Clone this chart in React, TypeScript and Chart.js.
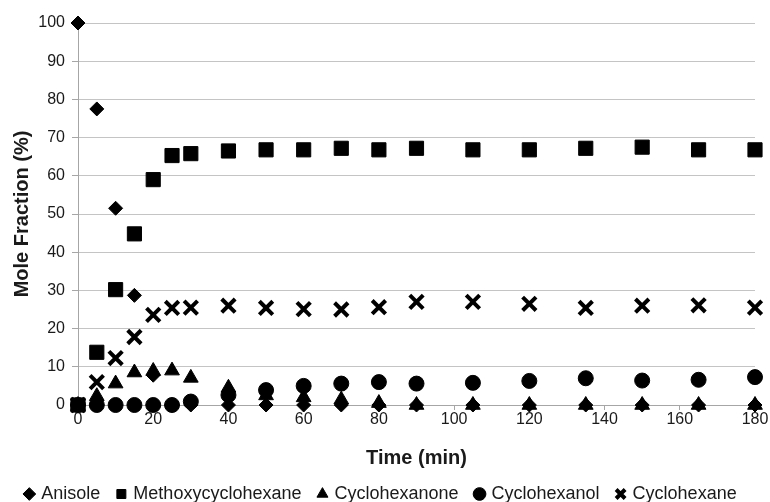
import React, { useEffect, useRef } from "react";
import { Chart, registerables } from "chart.js";

Chart.register(...registerables);

const times = [0, 5, 10, 15, 20, 25, 30, 40, 50, 60, 70, 80, 90, 105, 120, 135, 150, 165, 180];
const anisole = [100, 77.5, 51.5, 28.7, 7.8, 0, 0, 0, 0, 0, 0, 0, 0, 0, 0, 0, 0, 0, 0];
const methoxycyclohexane = [0, 13.8, 30.2, 44.8, 59, 65.3, 65.8, 66.5, 66.8, 66.8, 67.2, 66.8, 67.2, 66.8, 66.8, 67.2, 67.5, 66.8, 66.8];
const cyclohexanone = [0, 2.3, 5.6, 8.5, 8.9, 9.0, 7.1, 4.5, 2.5, 2, 1.4, 0.5, 0, 0, 0, 0, 0, 0, 0];
const cyclohexanol = [0, 0, 0, 0, 0, 0, 0.9, 2.6, 3.9, 5, 5.6, 6, 5.6, 5.8, 6.3, 7, 6.4, 6.6, 7.3];
const cyclohexane = [0, 6, 12.3, 17.8, 23.6, 25.4, 25.5, 26, 25.4, 25.1, 25, 25.6, 27, 27, 26.5, 25.4, 26, 26.1, 25.5];
const yTicks = [0, 10, 20, 30, 40, 50, 60, 70, 80, 90, 100];

const TEXT = "#1a1a1a";
const FONT = "'Liberation Sans', Arial, sans-serif";

const toPts = (vals: number[]) => times.map((t, i) => ({ x: t, y: vals[i] }));

export default function App() {
  const ref = useRef<HTMLCanvasElement | null>(null);
  useEffect(() => {
    if (!ref.current) return;
    const mk = (label: string, vals: number[], style: any, r: number, bw = 1) => ({
      label,
      data: toPts(vals),
      showLine: false,
      clip: false,
      pointStyle: style,
      pointRadius: r,
      pointHoverRadius: r,
      backgroundColor: "#000",
      borderColor: "#000",
      borderWidth: bw,
      pointBorderWidth: bw,
    });
    const chart = new Chart(ref.current, {
      type: "scatter",
      data: {
        datasets: [
          mk("Anisole", anisole, "rectRot", 7),
          mk("Methoxycyclohexane", methoxycyclohexane, "rect", 10),
          mk("Cyclohexanone", cyclohexanone, "triangle", 8.5),
          mk("Cyclohexanol", cyclohexanol, "circle", 7.5),
          mk("Cyclohexane", cyclohexane, "crossRot", 9.5, 4),
        ] as any,
      },
      options: {
        animation: false,
        responsive: true,
        maintainAspectRatio: false,
        layout: { padding: { left: 8, top: 23, right: 15, bottom: -11 } },
        plugins: {
          tooltip: { enabled: false },
          legend: {
            position: "bottom",
            labels: {
              usePointStyle: true,
              boxWidth: 6,
              boxHeight: 9,
              padding: 18,
              color: TEXT,
              font: { family: FONT, size: 18 },
            },
          },
        },
        scales: {
          x: {
            type: "linear",
            min: 0,
            max: 180,
            afterFit: (s: any) => {
              s.height = 62;
            },
            ticks: {
              stepSize: 20,
              padding: 0,
              color: TEXT,
              font: { family: FONT, size: 16 },
            },
            grid: {
              drawOnChartArea: false,
              drawTicks: true,
              tickLength: 5,
              tickColor: "#a6a6a6",
              color: "#a6a6a6",
            },
            border: { display: true, color: "#a6a6a6", width: 1 },
            title: {
              display: true,
              text: "Time (min)",
              color: TEXT,
              font: { family: FONT, size: 20, weight: "bold", lineHeight: 1 },
              padding: { top: 0, bottom: -1 },
            },
          },
          y: {
            min: 0,
            max: 100,
            afterFit: (s: any) => {
              s.width = 70;
            },
            afterBuildTicks: (s: any) => {
              s.ticks = yTicks.map((v) => ({ value: v }));
            },
            ticks: {
              padding: 7,
              color: TEXT,
              font: { family: FONT, size: 16 },
            },
            grid: {
              color: "#c4c4c4",
              lineWidth: 1,
              drawTicks: true,
              tickLength: 6,
              tickColor: "#a6a6a6",
            },
            border: { display: true, color: "#a6a6a6", width: 1 },
            title: {
              display: true,
              text: "Mole Fraction (%)",
              color: TEXT,
              font: { family: FONT, size: 20, weight: "bold", lineHeight: 1.2 },
              padding: { top: 2, bottom: 0 },
            },
          },
        },
      } as any,
    });
    return () => chart.destroy();
  }, []);
  return (
    <div style={{ position: "fixed", left: 0, top: 0, width: 770, height: 502, background: "#fff" }}>
      <canvas ref={ref} />
    </div>
  );
}
